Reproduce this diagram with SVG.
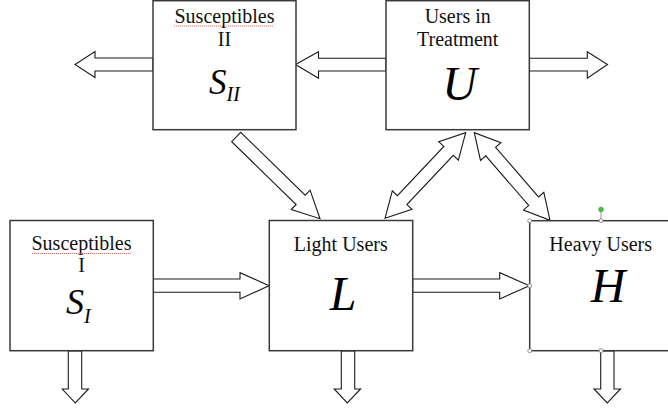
<svg xmlns="http://www.w3.org/2000/svg" width="668" height="411" viewBox="0 0 668 411">
<style>
.box{fill:#fff;stroke:#3a3a3a;stroke-width:1.5}
.arr{fill:#fff;stroke:#1a1a1a;stroke-width:1.1;stroke-linejoin:miter}
text{font-family:'Liberation Serif','Times New Roman','DejaVu Serif',serif}
.lbl{font-size:20px;fill:#111;text-anchor:middle}
.sym{font-style:italic;fill:#000}
.spell{fill:none;stroke:#e05555;stroke-width:0.9;stroke-dasharray:1 1}
.hdl{fill:#fff;stroke:#777;stroke-width:0.8}
</style>
<rect width="668" height="411" fill="#fff"/>
<g id="connectors">
  <polygon class="arr" points="153,58 95,58 95,51.5 75,64.5 95,77.5 95,71 153,71"/>
  <polygon class="arr" points="386,58.3 318.5,58.3 318.5,51.7 295.5,64.5 318.5,78.3 318.5,71 386,71"/>
  <polygon class="arr" points="529.5,58.3 587.3,58.3 587.3,51.7 607.5,64.5 587.3,78.3 587.3,71 529.5,71"/>
  <polygon class="arr" points="153,279 240,279 240,272.7 269,285.7 240,298.9 240,292.3 153,292.3"/>
  <polygon class="arr" points="412.7,279 499.7,279 499.7,272.7 529.5,285.7 499.7,298.9 499.7,292.3 412.7,292.3"/>
  <polygon class="arr" points="68.3,351 68.3,389 62.3,389 75.3,403 88.5,389 81.7,389 81.7,351"/>
  <polygon class="arr" points="341.3,351 341.3,389 334.2,389 347.3,403 360.6,389 354.7,389 354.7,351"/>
  <polygon class="arr" points="600.7,351 600.7,389 594,389 607.3,403 620.5,389 614,389 614,351"/>
  <polygon class="arr" points="240.74,132.35 305.21,195.2 310.09,190.18 320,218.7 291.25,209.52 296.13,204.5 231.66,141.65"/>
  <polygon class="arr" points="385,218.3 411.97,209.37 406.88,204.57 453.28,155.35 458.37,160.15 465.7,132.7 438.73,141.63 443.82,146.43 397.42,195.65 392.33,190.85"/>
  <polygon class="arr" points="474.3,132.7 480.48,160.43 485.77,155.85 528.71,205.37 523.42,209.95 550,220.3 543.82,192.27 538.53,196.85 495.59,147.33 500.88,142.75"/>
</g>
<g id="node-SII">
  <rect class="box" x="153" y="0.7" width="143" height="129"/>
  <text class="lbl" x="224.5" y="23.3">Susceptibles</text>
  <path class="spell" d="M174,26 H274"/>
  <text class="lbl" x="224.5" y="46.3">II</text>
  <text class="sym" x="209" y="94"><tspan font-size="35">S</tspan><tspan font-size="20" dy="7">II</tspan></text>
</g>
<g id="node-U">
  <rect class="box" x="386" y="0.7" width="143.3" height="129"/>
  <text class="lbl" x="457.7" y="23.3">Users in</text>
  <text class="lbl" x="457.7" y="46.3">Treatment</text>
  <text class="sym" x="459.5" y="100" font-size="48" text-anchor="middle">U</text>
</g>
<g id="node-SI">
  <rect class="box" x="10" y="220.5" width="143.3" height="130.2"/>
  <text class="lbl" x="81.5" y="250">Susceptibles</text>
  <path class="spell" d="M32,253.5 H131"/>
  <text class="lbl" x="81.5" y="271.7">I</text>
  <text class="sym" x="66" y="314"><tspan font-size="36">S</tspan><tspan font-size="20" dy="9">I</tspan></text>
</g>
<g id="node-L">
  <rect class="box" x="269.3" y="220.5" width="143.4" height="130.2"/>
  <text class="lbl" x="340.8" y="251.3">Light Users</text>
  <text class="sym" x="343" y="309.7" font-size="48" text-anchor="middle">L</text>
</g>
<g id="node-H">
  <rect class="box" x="529.7" y="220.7" width="143" height="130"/>
  <text class="lbl" x="600.7" y="250.7">Heavy Users</text>
  <text class="sym" x="608" y="302.3" font-size="48" text-anchor="middle">H</text>
  <line x1="601" y1="211.5" x2="601" y2="220.7" stroke="#777" stroke-width="0.8"/>
  <circle cx="601" cy="209.5" r="2.3" fill="#33cc33" stroke="#2a8a2a" stroke-width="0.6"/>
  <circle class="hdl" cx="529.7" cy="220.7" r="2"/>
  <circle class="hdl" cx="601" cy="220.7" r="2"/>
  <circle class="hdl" cx="529.7" cy="285.7" r="2"/>
  <circle class="hdl" cx="529.7" cy="350.7" r="2"/>
  <circle class="hdl" cx="601" cy="350.7" r="2"/>
</g>
</svg>
